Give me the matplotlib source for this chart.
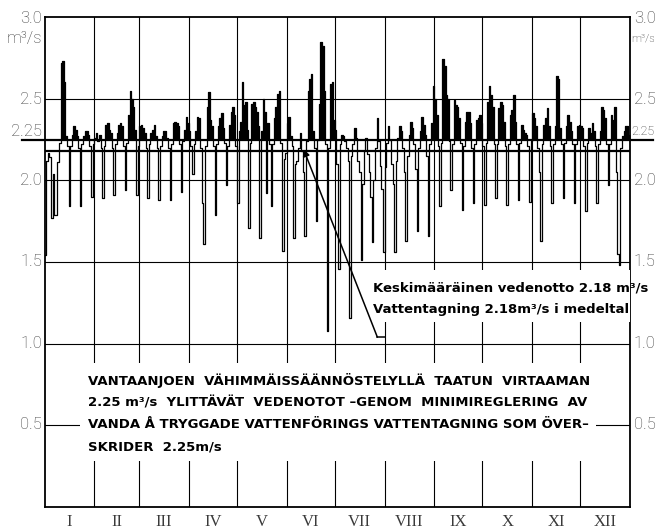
import numpy as np
import matplotlib.pyplot as plt
from matplotlib.patches import Rectangle
import matplotlib.transforms as mtransforms

# daily water intake, m3/s (one row per week Mon..Sun)
start_days = [1.54, 2.12, 2.17, 2.14, 1.77, 2.04, 1.79, 1.79, 2.11]
weeks = [
    [2.23, 2.72, 2.73, 2.60, 2.27, 2.21, 1.84],
    [2.21, 2.28, 2.33, 2.31, 2.27, 2.20, 1.84],
    [2.22, 2.27, 2.30, 2.30, 2.28, 2.21, 1.90],
    [2.22, 2.26, 2.29, 2.24, 2.28, 2.20, 1.89],
    [2.21, 2.34, 2.35, 2.31, 2.29, 2.20, 1.91],
    [2.22, 2.29, 2.34, 2.35, 2.33, 2.21, 1.94],
    [2.23, 2.40, 2.55, 2.50, 2.45, 2.31, 1.91],
    [2.21, 2.33, 2.34, 2.32, 2.29, 2.20, 1.89],
    [2.22, 2.29, 2.31, 2.34, 2.27, 2.20, 1.88],
    [2.21, 2.27, 2.30, 2.30, 2.26, 2.20, 1.88],
    [2.22, 2.35, 2.36, 2.35, 2.33, 2.22, 1.93],
    [2.24, 2.31, 2.39, 2.35, 2.30, 2.21, 2.04],
    [2.22, 2.30, 2.39, 2.38, 2.20, 1.86, 1.61],
    [2.21, 2.45, 2.54, 2.37, 2.33, 2.21, 1.79],
    [2.22, 2.33, 2.38, 2.41, 2.32, 2.23, 1.97],
    [2.21, 2.34, 2.42, 2.45, 2.40, 2.21, 1.86],
    [2.30, 2.36, 2.60, 2.46, 2.48, 2.31, 1.71],
    [2.23, 2.47, 2.48, 2.45, 2.42, 2.33, 1.65],
    [2.30, 2.50, 2.42, 1.92, 2.35, 2.22, 1.84],
    [2.22, 2.38, 2.45, 2.53, 2.55, 2.23, 1.57],
    [2.13, 2.17, 2.35, 2.39, 2.27, 2.21, 1.65],
    [2.10, 2.12, 2.20, 2.29, 2.18, 2.05, 1.66],
    [2.24, 2.55, 2.62, 2.65, 2.30, 2.20, 1.75],
    [2.25, 2.47, 2.85, 2.82, 2.55, 2.22, 1.08],
    [2.20, 2.59, 2.60, 2.37, 2.31, 2.10, 1.46],
    [2.22, 2.28, 2.27, 2.24, 2.20, 2.12, 1.16],
    [2.15, 2.22, 2.32, 2.26, 2.12, 2.05, 1.51],
    [1.98, 2.18, 2.26, 2.16, 2.05, 1.90, 1.62],
    [2.00, 2.20, 2.38, 2.24, 2.09, 1.95, 1.56],
    [2.08, 2.23, 2.33, 2.25, 2.10, 1.98, 1.56],
    [2.12, 2.26, 2.33, 2.30, 2.20, 2.05, 1.63],
    [2.15, 2.28, 2.36, 2.32, 2.22, 2.07, 1.69],
    [2.20, 2.30, 2.39, 2.34, 2.28, 2.15, 1.66],
    [2.22, 2.35, 2.58, 2.50, 2.40, 2.21, 1.84],
    [2.23, 2.74, 2.70, 2.52, 2.50, 2.24, 1.94],
    [2.22, 2.49, 2.46, 2.45, 2.38, 2.23, 1.82],
    [2.21, 2.36, 2.42, 2.42, 2.35, 2.20, 1.86],
    [2.22, 2.37, 2.38, 2.40, 2.35, 2.21, 1.85],
    [2.23, 2.48, 2.58, 2.52, 2.45, 2.22, 1.89],
    [2.22, 2.44, 2.48, 2.46, 2.36, 2.21, 1.85],
    [2.22, 2.40, 2.43, 2.52, 2.36, 2.22, 1.88],
    [2.23, 2.34, 2.31, 2.29, 2.28, 2.21, 1.87],
    [2.24, 2.41, 2.38, 2.33, 2.20, 2.05, 1.63],
    [2.22, 2.34, 2.38, 2.44, 2.33, 2.21, 1.86],
    [2.22, 2.33, 2.64, 2.62, 2.32, 2.22, 1.89],
    [2.23, 2.33, 2.40, 2.36, 2.30, 2.22, 1.86],
    [2.22, 2.33, 2.34, 2.33, 2.32, 2.21, 1.81],
    [2.23, 2.32, 2.29, 2.35, 2.30, 2.21, 1.86],
    [2.22, 2.30, 2.45, 2.43, 2.38, 2.22, 1.97],
    [2.22, 2.40, 2.37, 2.45, 2.05, 1.55, 1.48],
]
end_days = [2.20, 2.27, 2.30, 2.33, 2.33, 2.28]

months = ['I', 'II', 'III', 'IV', 'V', 'VI', 'VII', 'VIII', 'IX', 'X', 'XI', 'XII']
month_len = [31, 28, 31, 30, 31, 30, 31, 31, 30, 31, 30, 31]
left_labels = ['3.0', '2.5', '2.0', '1.5', '1.0', '0.5']
label_vals = [3.0, 2.5, 2.0, 1.5, 1.0, 0.5]
guaranteed = 2.25
mean_intake = 2.18

flow = np.array(start_days + sum(weeks, []) + end_days)
x = np.arange(len(flow) + 1)
y = np.append(flow, flow[-1])
bounds = np.cumsum([0] + month_len)

W, H = 657, 530
fig = plt.figure(figsize=(W / 100, H / 100), dpi=100)
L, R, T, B = 44.5, 630, 17, 507
ax = fig.add_axes([L / W, 1 - B / H, (R - L) / W, (B - T) / H])
ax.set_xlim(0, 365)
ax.set_ylim(0, 3.0)
ax.set_xticks([])
ax.set_yticks([])
for s in ax.spines.values():
    s.set_linewidth(1.3)

def px(xp, yp):
    return xp / W, 1 - yp / H

grey = '#3a3a3a'
# grid
for b in bounds[1:-1]:
    ax.axvline(b, color='k', lw=0.8, zorder=1)
for v in [2.5, 2.0, 1.5, 1.0, 0.5]:
    ax.axhline(v, color='k', lw=0.8, zorder=1)
ax.axhline(mean_intake, color='k', lw=1.6, zorder=5)
trans = mtransforms.blended_transform_factory(ax.transAxes, ax.transData)
ax.plot([-0.038, 1.04], [guaranteed, guaranteed], color='k', lw=1.6,
        transform=trans, clip_on=False, zorder=5)

# flow trace
ax.fill_between(x, np.maximum(y, guaranteed), guaranteed, step='post',
                color='k', lw=0, zorder=4)
ax.step(x, y, where='post', color='k', lw=0.9, zorder=4)

# white text areas
ax.add_patch(Rectangle((22, 0.28), 322, 0.6, facecolor='white',
                       edgecolor='none', zorder=3))
ax.add_patch(Rectangle((210, 1.13), 155, 0.32, facecolor='white',
                       edgecolor='none', zorder=3))

# axis labels
lab_font = dict(family=['Roboto', 'DejaVu Sans'], fontweight='light',
                color=grey)
for lbl, v in zip(left_labels, label_vals):
    yp = 505.8 - v * 162.6
    fig.text(*px(42, yp), lbl, ha='right', va='center', fontsize=12, **lab_font)
    fig.text(*px(634, yp), lbl, ha='left', va='center', fontsize=12, **lab_font)
fig.text(*px(42, 131), '2.25', ha='right', va='center', fontsize=12, **lab_font)
fig.text(*px(631, 131), '2.25', ha='left', va='center', fontsize=9, **lab_font)
fig.text(*px(42, 38), 'm³/s', ha='right', va='center', fontsize=12, **lab_font)
fig.text(*px(631, 38), 'm³/s', ha='left', va='center', fontsize=8, **lab_font)

for i, m in enumerate(months):
    ax.text((bounds[i] + bounds[i + 1]) / 2, -0.04, m, ha='center', va='top',
            family='Liberation Serif', fontsize=12, color=grey)

# annotation
bold = dict(family='DejaVu Sans', fontweight='bold', fontsize=9.5, color='k')
fig.text(*px(373, 288), 'Keskimääräinen vedenotto 2.18 m³/s', ha='left',
         va='center', **bold)
fig.text(*px(373, 310), 'Vattentagning 2.18m³/s i medeltal', ha='left',
         va='center', **bold)
ax.plot([212.5, 207.5], [1.04, 1.04], color='k', lw=1.1, zorder=6)
ax.annotate('', xy=(161.5, 2.19), xytext=(207.5, 1.04),
            arrowprops=dict(arrowstyle='-|>', color='k', lw=1.1,
                            mutation_scale=10, shrinkA=0, shrinkB=0),
            zorder=6)

main_lines = ['VANTAANJOEN  VÄHIMMÄISSÄÄNNÖSTELYLLÄ  TAATUN  VIRTAAMAN',
              '2.25 m³/s  YLITTÄVÄT  VEDENOTOT –GENOM  MINIMIREGLERING  AV',
              'VANDA Å TRYGGADE VATTENFÖRINGS VATTENTAGNING SOM ÖVER–',
              'SKRIDER  2.25m/s']
for i, line in enumerate(main_lines):
    fig.text(*px(88, 381 + i * 22), line, ha='left', va='center', **bold)

fig.savefig('out.png', dpi=100)
